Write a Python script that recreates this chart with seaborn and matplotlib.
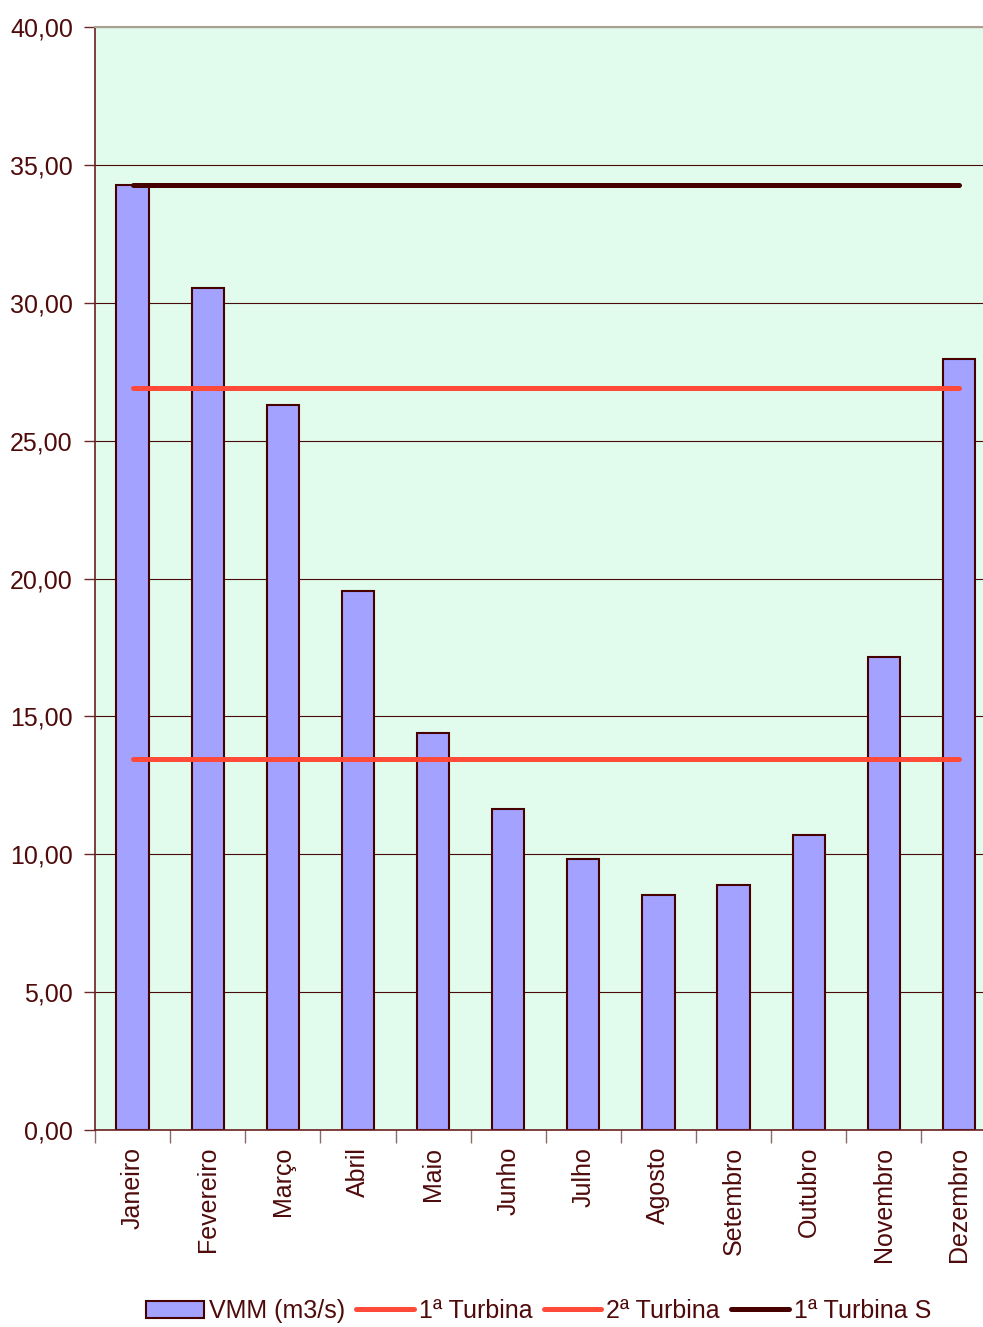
import matplotlib
matplotlib.use('Agg')
import matplotlib.pyplot as plt
import pandas as pd
import seaborn as sns
from matplotlib.patches import Patch
from matplotlib.lines import Line2D

# Data
months = ['Janeiro', 'Fevereiro', 'Março', 'Abril', 'Maio', 'Junho',
          'Julho', 'Agosto', 'Setembro', 'Outubro', 'Novembro', 'Dezembro']
vmm = [34.27, 30.53, 26.29, 19.55, 14.40, 11.64, 9.83, 8.52, 8.88, 10.70, 17.15, 27.96]
turbina_1 = 13.45
turbina_2 = 26.90
turbina_1s = 34.27
y_ticks = [0, 5, 10, 15, 20, 25, 30, 35, 40]

text_col = '#4f0b0b'
grid_col = '#4a0a0a'
bg_col = '#e1fcec'
bar_col = '#a3a3ff'
red_col = '#ff4a3a'
dark_col = '#470000'

sns.set_style('white')
plt.rcParams['font.family'] = ['Liberation Sans', 'DejaVu Sans']
plt.rcParams['text.color'] = text_col

df = pd.DataFrame({'month': months, 'vmm': vmm, 'pos': range(len(months))})
df['t1'] = [turbina_1] * len(months)
df['t2'] = [turbina_2] * len(months)
df['t1s'] = [turbina_1s] * len(months)

fig = plt.figure(figsize=(9.83, 13.27), dpi=100)
ax = fig.add_axes([95 / 983, 197 / 1327, 888 / 983, 1103 / 1327])
ax.set_facecolor(bg_col)

sns.barplot(data=df, x='pos', y='vmm', ax=ax, color=bar_col, width=0.43,
            edgecolor=dark_col, linewidth=1.5, saturation=1, native_scale=True)
sns.lineplot(data=df, x='pos', y='t1', ax=ax, color=red_col, linewidth=3.6,
             solid_capstyle='round')
sns.lineplot(data=df, x='pos', y='t2', ax=ax, color=red_col, linewidth=3.6,
             solid_capstyle='round')
sns.lineplot(data=df, x='pos', y='t1s', ax=ax, color=dark_col, linewidth=3.6,
             solid_capstyle='round')

ax.set_xlim(-0.5, 11.32)
ax.set_ylim(0, 40)
ax.set_yticks(y_ticks)
ax.set_yticklabels([f'{v:.2f}'.replace('.', ',') for v in y_ticks], fontsize=18, color=text_col)
ax.yaxis.grid(True, color=grid_col, linewidth=0.8)
ax.set_axisbelow(True)

# category boundaries as major ticks, names as minor ticks
ax.set_xticks([i - 0.5 for i in range(len(months))])
ax.set_xticklabels([])
ax.set_xticks(range(len(months)), minor=True)
ax.set_xticklabels(months, minor=True, rotation=90, fontsize=18, color=text_col)
ax.tick_params(axis='x', which='major', length=9, width=1, color='#8a6a6a', direction='out', bottom=True)
ax.tick_params(axis='x', which='minor', length=0, pad=12)
ax.tick_params(axis='y', length=8, width=1, color='#6a2a2a', direction='out', left=True, pad=8)
ax.set_xlabel('')
ax.set_ylabel('')

for s in ['left', 'bottom']:
    ax.spines[s].set_color('#6a2020')
    ax.spines[s].set_linewidth(1.2)
ax.spines['top'].set_color('#a8a090')
ax.spines['top'].set_linewidth(1.5)
ax.spines['right'].set_visible(False)

handles = [Patch(facecolor=bar_col, edgecolor=dark_col, linewidth=1.5),
           Line2D([], [], color=red_col, linewidth=3.6),
           Line2D([], [], color=red_col, linewidth=3.6),
           Line2D([], [], color=dark_col, linewidth=3.6)]
labels = ['VMM (m3/s)', '1ª Turbina', '2ª Turbina', '1ª Turbina S']
fig.legend(handles, labels, loc='center', bbox_to_anchor=(0.548, 0.012), ncol=4,
           frameon=False, fontsize=18, handlelength=2.3, handletextpad=0.2,
           columnspacing=0.45, labelcolor=text_col)

fig.savefig('out.png', dpi=100)
